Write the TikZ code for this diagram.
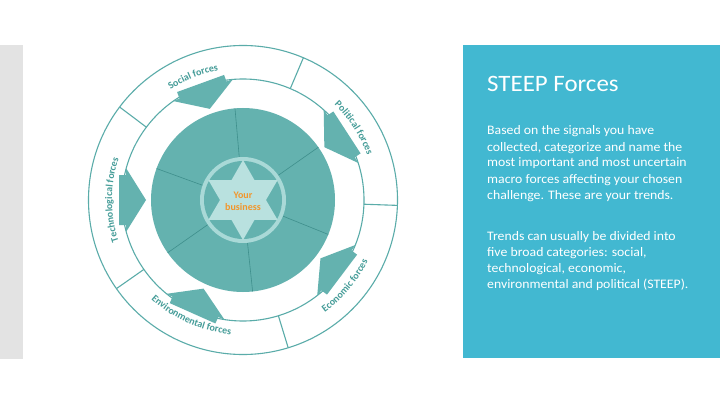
\documentclass[tikz,border=0pt]{standalone}
\usepackage{fontspec}
\setmainfont{Carlito}
\newfontfamily\panelfont{Carlito}[FakeStretch=1.06]
\usetikzlibrary{decorations.text,calc}
\definecolor{diskc}{HTML}{64B2AF}
\definecolor{ringline}{HTML}{5AACA9}
\definecolor{labelc}{HTML}{449C98}
\definecolor{divline}{HTML}{3F8F8C}
\definecolor{lightc}{HTML}{A9D9D7}
\definecolor{starc}{HTML}{B9E1DF}
\definecolor{orangec}{HTML}{F2962B}
\definecolor{panelc}{HTML}{42B8D1}
\definecolor{greyc}{HTML}{E3E3E3}
\newcommand\ringlblfont{\bfseries\fontsize{10}{11}\selectfont}
\tikzset{
  ringcircle/.style={draw=ringline, line width=1.1pt},
  divider/.style={draw=ringline, line width=1.1pt},
  disklinestyle/.style={draw=divline, line width=0.6pt},
  forcearrow/.style={fill=diskc, draw=none},
  paneltext/.style={anchor=base west, inner sep=0pt, text=white, font=\panelfont\fontsize{13}{16}\selectfont},
  toplabel/.style={decorate, decoration={text along path, text align=center, text color=labelc, text={|\ringlblfont|#1}}},
}
\begin{document}
\begin{tikzpicture}[x=1pt,y=1pt]
\useasboundingbox (0,0) rectangle (720,405);
\fill[white] (0,0) rectangle (720,405);
\fill[greyc] (0,46) rectangle (23,360);
\fill[panelc] (463,47) rectangle (720,360);

\coordinate (C) at (243,205);

% rings
\draw[ringcircle] (C) circle[radius=154.5];
\draw[ringcircle] (C) circle[radius=121];
\foreach \a in {67,-2,-73,-145,143}
  \draw[divider] ($(C)+(\a:121)$) -- ($(C)+(\a:154.5)$);

% dark disk
\fill[diskc] (C) circle[radius=92];
\foreach \a in {95,35,-22,-84,-145,160}
  \draw[disklinestyle] ($(C)+(\a:43)$) -- ($(C)+(\a:92)$);

% arrows
\foreach \a in {110,33,-37,-114,180}{
  \begin{scope}[shift={(C)}, rotate=\a]
    \fill[forcearrow] (124,25) -- (117,25) -- (117,32) -- (97,0) -- (117,-32) -- (117,-25) -- (124,-25) -- cycle;
  \end{scope}
}

% centre
\fill[lightc] (C) circle[radius=43];
\fill[diskc] (C) circle[radius=39];
\fill[starc] ($(C)+(90:40)$)
  \foreach \k in {0,...,5}{ -- ($(C)+(60-60*\k:23)$) -- ($(C)+(30-60*\k:40)$) } -- cycle;
\node[align=center, text=orangec, font=\bfseries\fontsize{10}{12.5}\selectfont, inner sep=0pt] (biz) at ($(C)+(0,-1.5)$) {Your\\business};

% ring labels
\path[toplabel={Social forces}] ($(C)+(152:132)$) arc[start angle=152, end angle=72, radius=132];
\path[toplabel={Political forces}] ($(C)+(73:132)$) arc[start angle=73, end angle=-7, radius=132];
\path[toplabel={Technological forces}] ($(C)+(220:131)$) arc[start angle=220, end angle=140, radius=131];
\path[toplabel={Economic forces}] ($(C)+(-80:139)$) arc[start angle=-80, end angle=0, radius=139];
\path[toplabel={Environmental forces}] ($(C)+(-154:135)$) arc[start angle=-154, end angle=-74, radius=135];

% panel text
\node[anchor=base west, inner sep=0pt, text=white, font=\panelfont\fontsize{23.5}{26}\selectfont] (title) at (487,313) {STEEP Forces};
\node[paneltext] (p1) at (487,270) {Based on the signals you have};
\node[paneltext] (p2) at (487,254) {collected, categorize and name the};
\node[paneltext] (p3) at (487,238) {most important and most uncertain};
\node[paneltext] (p4) at (487,222) {macro forces affecting your chosen};
\node[paneltext] (p5) at (487,206) {challenge. These are your trends.};
\node[paneltext] (q1) at (487,165) {Trends can usually be divided into};
\node[paneltext] (q2) at (487,149) {five broad categories: social,};
\node[paneltext] (q3) at (487,133) {technological, economic,};
\node[paneltext] (q4) at (487,117) {environmental and political (STEEP).};
\end{tikzpicture}
\end{document}
